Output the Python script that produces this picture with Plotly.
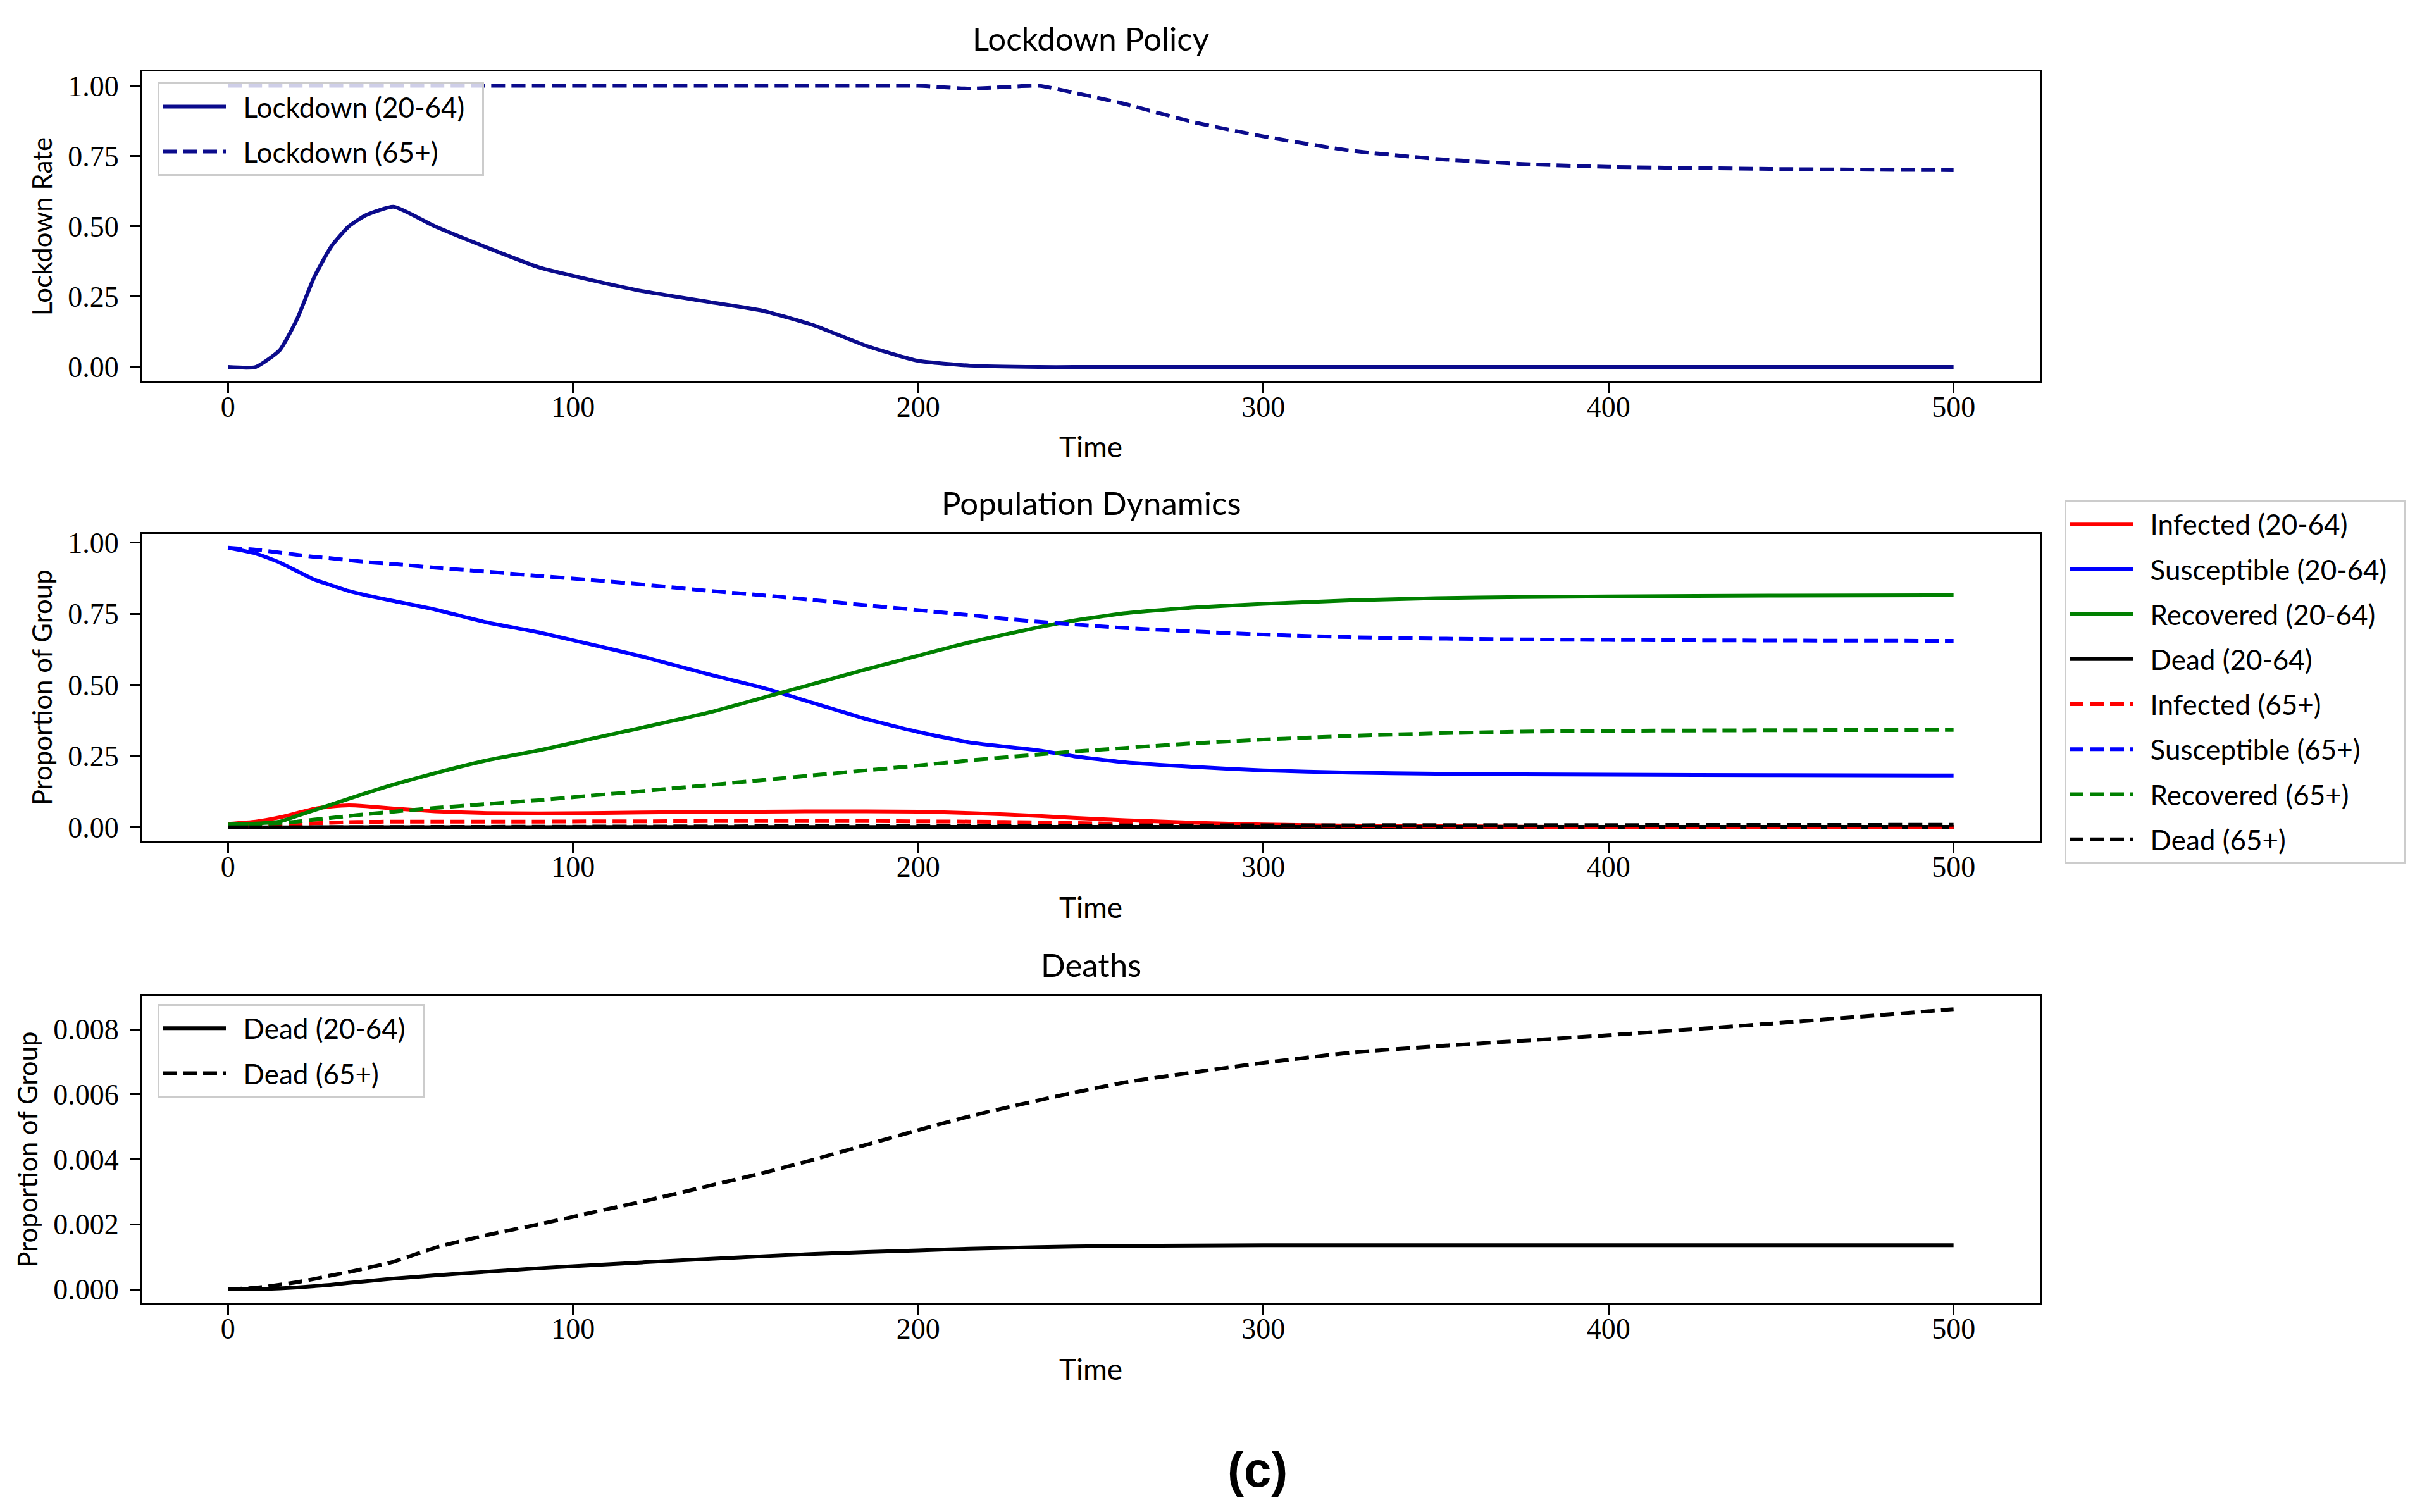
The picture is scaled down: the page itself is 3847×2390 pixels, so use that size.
import plotly.graph_objects as go

# time grid
time = [0, 8, 15, 20, 25, 30, 35, 40, 48, 60, 75, 90, 105, 120, 140, 155, 170, 185,
        200, 215, 235, 245, 260, 280, 300, 325, 350, 375, 400, 450, 500]

# Lockdown policy
lockdown_young = [0, 0, 0.06, 0.17, 0.32, 0.43, 0.50, 0.54, 0.57, 0.50, 0.425, 0.355, 0.31,
                  0.27, 0.23, 0.20, 0.147, 0.075, 0.022, 0.005, 0, 0, 0, 0, 0, 0, 0, 0, 0, 0, 0]
lockdown_old = [1.0, 1.0, 1.0, 1.0, 1.0, 1.0, 1.0, 1.0, 1.0, 1.0, 1.0, 1.0, 1.0, 1.0, 1.0, 1.0,
                1.0, 1.0, 1.0, 0.99, 1.0, 0.976, 0.935, 0.87, 0.82, 0.77, 0.74, 0.722, 0.712,
                0.704, 0.70]

# Population dynamics, 20-64
infected_young = [0.012, 0.02, 0.035, 0.05, 0.065, 0.073, 0.077, 0.074, 0.066, 0.056, 0.05,
                  0.049, 0.05, 0.052, 0.054, 0.055, 0.056, 0.056, 0.055, 0.05, 0.04, 0.033,
                  0.025, 0.016, 0.01, 0.006, 0.004, 0.002, 0.0015, 0.001, 0.0005]
susceptible_young = [0.982, 0.962, 0.93, 0.9, 0.87, 0.85, 0.83, 0.815, 0.795, 0.765, 0.72,
                     0.685, 0.643, 0.60, 0.535, 0.49, 0.435, 0.38, 0.335, 0.298, 0.27, 0.25,
                     0.228, 0.212, 0.2, 0.192, 0.188, 0.186, 0.185, 0.183, 0.182]
recovered_young = [0.01, 0.013, 0.02, 0.04, 0.06, 0.08, 0.1, 0.12, 0.15, 0.19, 0.235, 0.27,
                   0.31, 0.35, 0.405, 0.455, 0.505, 0.555, 0.603, 0.65, 0.703, 0.726, 0.752,
                   0.772, 0.785, 0.797, 0.805, 0.809, 0.811, 0.814, 0.815]
dead_young = [0, 0.000005, 0.00003, 0.00006, 0.0001, 0.00014, 0.0002, 0.00025, 0.00033,
              0.00043, 0.00054, 0.00065, 0.00074, 0.00083, 0.00094, 0.00102, 0.00109,
              0.00115, 0.0012, 0.00125, 0.0013, 0.00132, 0.00134, 0.00135, 0.00136, 0.00136,
              0.00136, 0.00136, 0.00136, 0.00136, 0.00136]

# Population dynamics, 65+
infected_old = [0.002, 0.004, 0.008, 0.011, 0.014, 0.016, 0.018, 0.019, 0.02, 0.02, 0.02, 0.02,
                0.021, 0.021, 0.022, 0.022, 0.022, 0.022, 0.021, 0.02, 0.017, 0.015, 0.012,
                0.009, 0.006, 0.004, 0.003, 0.002, 0.001, 0.0005, 0.0003]
susceptible_old = [0.982, 0.975, 0.965, 0.957, 0.95, 0.945, 0.938, 0.932, 0.925, 0.912, 0.898,
                   0.883, 0.869, 0.853, 0.83, 0.815, 0.798, 0.78, 0.763, 0.745, 0.722, 0.713,
                   0.70, 0.688, 0.677, 0.668, 0.663, 0.66, 0.658, 0.656, 0.655]
recovered_old = [0.008, 0.01, 0.015, 0.02, 0.027, 0.033, 0.04, 0.046, 0.055, 0.068, 0.082,
                 0.095, 0.111, 0.127, 0.149, 0.166, 0.183, 0.2, 0.217, 0.235, 0.256, 0.266,
                 0.279, 0.295, 0.308, 0.321, 0.33, 0.336, 0.339, 0.341, 0.342]
dead_old = [0, 0.00005, 0.00014, 0.00022, 0.00032, 0.00043, 0.00053, 0.00065, 0.00085, 0.00128,
            0.00167, 0.002, 0.00235, 0.0027, 0.0032, 0.00358, 0.004, 0.00445, 0.0049, 0.00533,
            0.00582, 0.00605, 0.00637, 0.00668, 0.00697, 0.00728, 0.00748, 0.00765, 0.00782,
            0.0082, 0.00862]

SANS = "Lato, Open Sans, DejaVu Sans"
SERIF = "Liberation Serif, DejaVu Serif"
LW = 6
DASH = "22px,10px"
PAD = "\u00a0\u00a0"

W, H = 3847, 2390
OFF = 8  # page margin of the html body


def px(v):
    return (v - OFF) / W


def py(v):
    return 1 - (v - OFF) / H


fig = go.Figure()


def add_line(y, name, color, dash, xa, ya, legend):
    fig.add_trace(go.Scatter(
        x=time, y=y, name=PAD + name + PAD, mode="lines",
        line=dict(color=color, width=LW, dash=dash, shape="spline", smoothing=0.5),
        xaxis=xa, yaxis=ya, legend=legend, legendgroup=name + xa,
    ))


# Lockdown panel
add_line(lockdown_young, "Lockdown (20-64)", "#0b0b8c", "solid", "x", "y", "legend")
add_line(lockdown_old, "Lockdown (65+)", "#0b0b8c", DASH, "x", "y", "legend")

# Population panel
pop = [
    (infected_young, "Infected (20-64)", "red", "solid"),
    (susceptible_young, "Susceptible (20-64)", "blue", "solid"),
    (recovered_young, "Recovered (20-64)", "green", "solid"),
    (dead_young, "Dead (20-64)", "black", "solid"),
    (infected_old, "Infected (65+)", "red", DASH),
    (susceptible_old, "Susceptible (65+)", "blue", DASH),
    (recovered_old, "Recovered (65+)", "green", DASH),
    (dead_old, "Dead (65+)", "black", DASH),
]
for y, name, color, dash in pop:
    add_line(y, name, color, dash, "x2", "y2", "legend2")

# Deaths panel
add_line(dead_young, "Dead (20-64)", "black", "solid", "x3", "y3", "legend3")
add_line(dead_old, "Dead (65+)", "black", DASH, "x3", "y3", "legend3")

x_dom = [px(224), px(3224)]
panels = {
    "": ([py(595), py(103)], [-0.05, 1.05], [0, 0.25, 0.5, 0.75, 1.0], ".2f", "Lockdown Rate"),
    "2": ([py(1327), py(838)], [-0.049, 1.031], [0, 0.25, 0.5, 0.75, 1.0], ".2f", "Proportion of Group"),
    "3": ([py(2062), py(1573)], [-0.00043, 0.00903], [0, 0.002, 0.004, 0.006, 0.008], ".3f", "Proportion of Group"),
}

axis_common = dict(showline=True, linecolor="black", linewidth=3, mirror=True,
                   ticks="outside", ticklen=16, tickwidth=3, tickcolor="black",
                   showgrid=False, zeroline=False,
                   tickfont=dict(family=SERIF, size=46, color="black"))

layout = {}
for key, (dom, yr, yt, fmt, ylab) in panels.items():
    layout["xaxis" + key] = dict(
        axis_common, domain=x_dom, range=[-25, 525], anchor="y" + key,
        tickvals=[0, 100, 200, 300, 400, 500], ticklabelstandoff=-18,
        title=dict(text="Time", standoff=24, font=dict(family=SANS, size=46, color="black")),
    )
    layout["yaxis" + key] = dict(
        axis_common, domain=dom, range=yr, anchor="x" + key, tickvals=yt, tickformat=fmt,
        ticklabelstandoff=8,
        title=dict(text=ylab, standoff=12, font=dict(family=SANS, size=42, color="black")),
    )

legend_common = dict(bgcolor="rgba(255,255,255,0.8)", bordercolor="#cccccc", borderwidth=3,
                     font=dict(family=SANS, size=44, color="black"),
                     xanchor="left", yanchor="top", itemwidth=100, tracegroupgap=11)
layout["legend"] = dict(legend_common, x=px(249), y=py(120))
layout["legend2"] = dict(legend_common, x=px(3263), y=py(784))
layout["legend3"] = dict(legend_common, x=px(249), y=py(1586))

titles = [("Lockdown Policy", 50), ("Population Dynamics", 788), ("Deaths", 1523)]
annotations = [dict(text=t, x=sum(x_dom) / 2, y=py(yy), xref="paper", yref="paper",
                    showarrow=False, xanchor="center", yanchor="middle",
                    font=dict(family=SANS, size=51, color="black")) for t, yy in titles]
annotations.append(dict(text="<b>(c)</b>", x=px(1987), y=py(2327), xref="paper", yref="paper",
                        showarrow=False, xanchor="center", yanchor="middle",
                        font=dict(family="Liberation Sans, Arial", size=78, color="black")))

fig.update_layout(
    **layout,
    annotations=annotations,
    width=W, height=H,
    margin=dict(l=0, r=0, t=0, b=0),
    paper_bgcolor="white", plot_bgcolor="white",
    showlegend=True,
)

fig.write_html("out.html")
